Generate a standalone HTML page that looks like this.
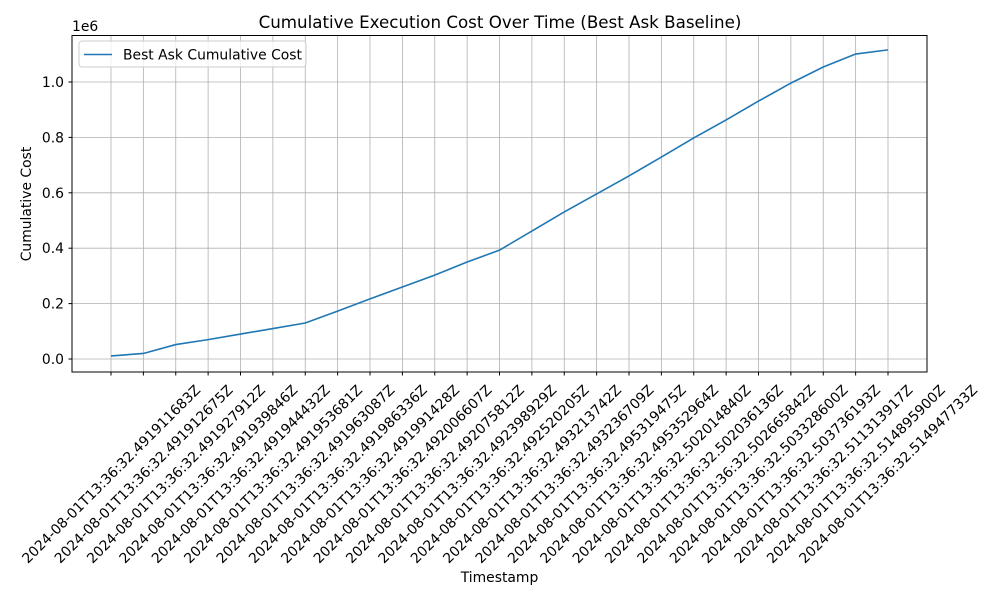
<!DOCTYPE html>
<html><head><meta charset="utf-8"><style>
body{margin:0;background:#fff}
svg{font-family:"DejaVu Sans","Liberation Sans",sans-serif}
</style></head><body>
<svg id="chart" width="1000" height="600" xmlns="http://www.w3.org/2000/svg">
<rect width="1000" height="600" fill="#fff"/>
<text x="500" y="28" text-anchor="middle" font-size="16.7">Cumulative Execution Cost Over Time (Best Ask Baseline)</text>
<g id="grid"></g><g id="ticks"></g>
<polyline id="line" fill="none" stroke="#1f77b4" stroke-width="1.6"/>
<rect x="72" y="35.5" width="855" height="336.5" fill="none" stroke="#000" stroke-width="1"/>
<text x="72" y="31" font-size="13.9">1e6</text>
<text x="499.5" y="582" text-anchor="middle" font-size="13.9">Timestamp</text>
<text transform="translate(31,204) rotate(-90)" text-anchor="middle" font-size="13.9">Cumulative Cost</text>
<g>
<rect x="79" y="41" width="227" height="26" rx="3" fill="#fff" fill-opacity="0.8" stroke="#ccc"/>
<line x1="84" y1="54.5" x2="112" y2="54.5" stroke="#1f77b4" stroke-width="1.6"/>
<text x="123" y="59.5" font-size="13.9">Best Ask Cumulative Cost</text>
</g>
</svg>
<script>
const categories=["491911683","491912675","491927912","491939846","491944432","491953681","491963087","491986336","491991428","492006607","492075812","492398929","492520205","493213742","493236709","495319475","495352964","502014840","502036136","502665842","503328600","503736193","511313917","514895900","514947733"];
const costValues=[0.011,0.02,0.052,0.07,0.09,0.11,0.13,0.173,0.217,0.26,0.303,0.35,0.393,0.462,0.531,0.596,0.661,0.729,0.798,0.863,0.931,0.996,1.054,1.101,1.116];
const yTicks=[0,0.2,0.4,0.6,0.8,1.0];
const yTickLabels=["0.0","0.2","0.4","0.6","0.8","1.0"];
const NS="http://www.w3.org/2000/svg";
const X=i=>111+(888-111)*i/(categories.length-1);
const Y=v=>359-277*v;
const grid=document.getElementById('grid'),ticks=document.getElementById('ticks');
function mk(t,a,p){const e=document.createElementNS(NS,t);for(const k in a)e.setAttribute(k,a[k]);p.appendChild(e);return e;}
categories.forEach((c,i)=>{
 const x=X(i);
 const g=mk('line',{x1:x,x2:x,y1:35.5,y2:372,stroke:'#b0b0b0','stroke-width':0.8},grid);
 
 
 mk('line',{x1:x,x2:x,y1:372,y2:375.5,stroke:'#000'},ticks);
 const t=mk('text',{x:0,y:5,'text-anchor':'middle','font-size':13.9,transform:`translate(${x},${474}) rotate(-45)`},ticks);
 t.textContent="2024-08-01T13:36:32."+c+"Z";
 
 
});
yTicks.forEach((v,i)=>{
 const y=Y(v);
 const g=mk('line',{x1:72,x2:927,y1:y,y2:y,stroke:'#b0b0b0','stroke-width':0.8},grid);
 
 
 mk('line',{x1:68.5,x2:72,y1:y,y2:y,stroke:'#000'},ticks);
 const t=mk('text',{x:64,y:y+5,'text-anchor':'end','font-size':13.9},ticks);
 t.textContent=yTickLabels[i];
 
 
});
document.getElementById('line').setAttribute('points',costValues.map((v,i)=>X(i)+','+Y(v)).join(' '));
</script>
</body></html>
